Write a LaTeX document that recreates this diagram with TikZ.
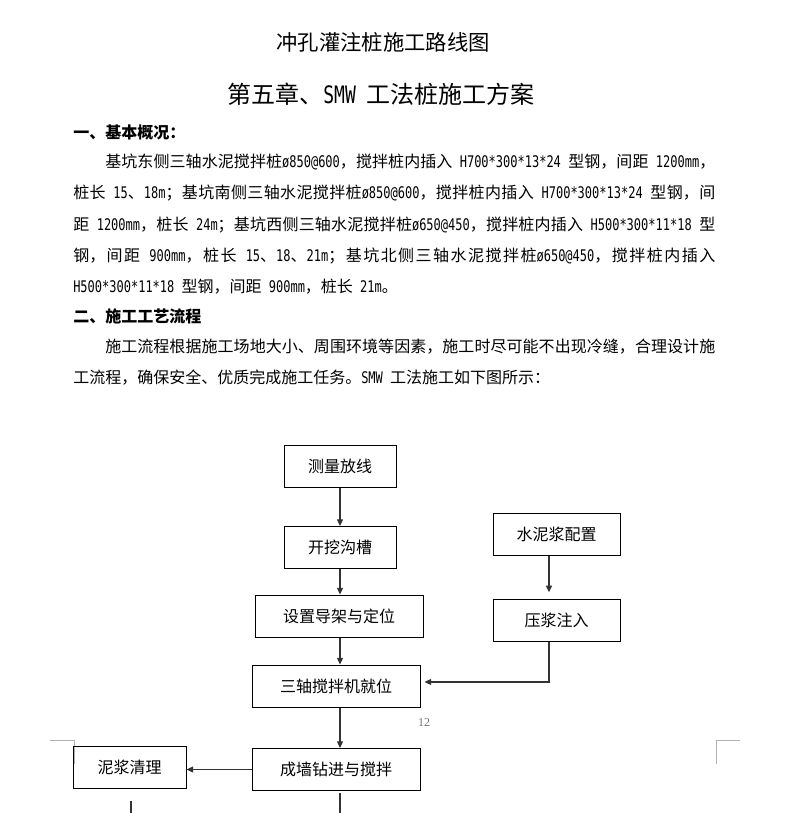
\documentclass[tikz,border=0pt]{standalone}
\usepackage{fontspec}
\setmainfont{Noto Sans CJK SC}
\newfontfamily\enfont{DejaVu Sans Mono}[FakeStretch=0.75]
\newfontfamily\pagefont{Liberation Serif}
\newcommand\entxt[1]{{\enfont #1}}
\usetikzlibrary{arrows.meta}
\XeTeXlinebreaklocale "zh"
\XeTeXlinebreakskip=0pt plus 2pt minus 0.2pt
\setlength\parindent{0pt}
\tolerance=9999

\begin{document}
\begin{tikzpicture}[
  x=0.75pt, y=-0.75pt,
  stepbox/.style={draw, rectangle, line width=0.75pt, minimum height=31.5pt, inner sep=0pt, font=\fontsize{12pt}{14pt}\selectfont},
  flow/.style={draw=black!80, line width=0.9pt, -{Triangle[length=5pt,width=4.5pt]}},
  cropmark/.style={draw=black!30, line width=0.75pt},
  heading/.style={anchor=base west, inner sep=0pt, font=\fontsize{12pt}{14pt}\selectfont\bfseries},
  bodyline/.style={anchor=base west, inner sep=0pt, font=\fontsize{12pt}{14pt}\selectfont},
  fullline/.style={bodyline, text width=#1, align=justify, execute at begin node={\parfillskip=0pt\relax}},
  pagenum/.style={inner sep=0pt, text=black!55, font=\fontsize{9pt}{10pt}\pagefont}
]
\useasboundingbox (0,0) rectangle (791,813);

\node[anchor=base, inner sep=0pt, font=\fontsize{16pt}{18pt}\selectfont] (title) at (383,50.5) {冲孔灌注桩施工路线图};
\node[anchor=base, inner sep=0pt, font=\fontsize{18pt}{20pt}\selectfont] (chapter) at (381,104) {第五章、\entxt{SMW\ }工法桩施工方案};

\node[heading] (sec1) at (73,138) {一、基本概况：};
\node[fullline=457.5pt] (p1a) at (105,167.5) {基坑东侧三轴水泥搅拌桩\entxt{ø850@600}，搅拌桩内插入\entxt{\ H700*300*13*24\ }型钢，间距\entxt{\ 1200mm}，};
\node[fullline=481.5pt] (p1b) at (73,198.75) {桩长\entxt{\ 15}、\entxt{18m}；基坑南侧三轴水泥搅拌桩\entxt{ø850@600}，搅拌桩内插入\entxt{\ H700*300*13*24\ }型钢，间};
\node[fullline=481.5pt] (p1c) at (73,230) {距\entxt{\ 1200mm}，桩长\entxt{\ 24m}；基坑西侧三轴水泥搅拌桩\entxt{ø650@450}，搅拌桩内插入\entxt{\ H500*300*11*18\ }型};
\node[fullline=481.5pt] (p1d) at (73,261.25) {钢，间距\entxt{\ 900mm}，桩长\entxt{\ 15}、\entxt{18}、\entxt{21m}；基坑北侧三轴水泥搅拌桩\entxt{ø650@450}，搅拌桩内插入};
\node[bodyline] (p1e) at (73,292.5) {\entxt{H500*300*11*18\ }型钢，间距\entxt{\ 900mm}，桩长\entxt{\ 21m}。};

\node[heading] (sec2) at (73,322) {二、施工工艺流程};
\node[fullline=457.5pt] (p2a) at (105,352) {施工流程根据施工场地大小、周围环境等因素，施工时尽可能不出现冷缝，合理设计施};
\node[bodyline] (p2b) at (73,383) {工流程，确保安全、优质完成施工任务。\entxt{SMW\ }工法施工如下图所示：};

\draw[cropmark] (50,740) -- (74,740) -- (74,764);
\draw[cropmark] (740,740) -- (716,740) -- (716,764);

\node[stepbox, minimum width=84pt] (survey) at (340,466) {测量放线};
\node[stepbox, minimum width=84pt] (trench) at (340,547.5) {开挖沟槽};
\node[stepbox, minimum width=126pt] (guide) at (339,616) {设置导架与定位};
\node[stepbox, minimum width=126pt] (mixer) at (336,686) {三轴搅拌机就位};
\node[stepbox, minimum width=126pt] (wall) at (336,769.5) {成墙钻进与搅拌};
\node[stepbox, minimum width=84.75pt] (slurry) at (129.5,767.5) {泥浆清理};
\node[stepbox, minimum width=95.25pt] (cement) at (556.5,534) {水泥浆配置};
\node[stepbox, minimum width=95.25pt] (grout) at (556.5,620.5) {压浆注入};

\node[pagenum] (pageno) at (424,723) {12};

\coordinate (spine) at (340,0);
\coordinate (feed) at (549,682);
\coordinate (slurryend) at (131,813);
\coordinate (wallend) at (340,813);

\draw[flow] (survey.south) -- (trench.north);
\draw[flow] (trench.south) -- (trench.south |- guide.north);
\draw[flow] (guide.south -| spine) -- (mixer.north -| spine);
\draw[flow] (mixer.south -| spine) -- (wall.north -| spine);
\draw[flow, shorten >=5pt] (cement.south -| feed) -- (grout.north -| feed);
\draw[flow, shorten >=3pt] (grout.south -| feed) -- (feed) -- (mixer.east |- feed);
\draw[flow] (wall.west) -- (slurry.east |- wall.west);
\draw[draw=black!80, line width=0.9pt, shorten <=9pt] (slurry.south -| slurryend) -- (slurryend);
\draw[draw=black!80, line width=0.9pt, shorten <=1.5pt] (wall.south -| wallend) -- (wallend);
\end{tikzpicture}
\end{document}
